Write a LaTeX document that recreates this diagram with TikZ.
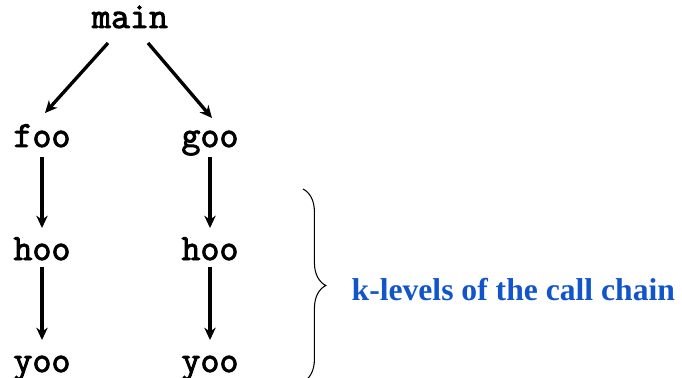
\documentclass[tikz,border=0pt]{standalone}
\usepackage{fontspec}
\setmainfont{Liberation Serif}
\newfontface\codefont[FakeBold=2.5]{Latin Modern Mono}
\usetikzlibrary{arrows.meta, calc, decorations.pathreplacing}
\definecolor{chainblue}{RGB}{17,85,204}

\begin{document}
\begin{tikzpicture}
            [x=0.02cm, y=-0.02cm, -{Stealth[length=7pt, width=6.5pt]}, line width=1.9pt,
             fn/.style={font=\fontsize{21}{22}\codefont, inner sep=0pt, anchor=base}]
            \useasboundingbox (0,0) rectangle (682,378);
            \node[fn] (main) at (130,28) {main};
            \node[fn] (foo) at (42,147) {foo};
            \node[fn] (goo) at (210,147) {goo};
            \node[fn] (hooL) at (42,260) {hoo};
            \node[fn] (hooR) at (210,260) {hoo};
            \node[fn] (yooL) at (42,372) {yoo};
            \node[fn] (yooR) at (210,372) {yoo};
            \node[font=\fontsize{18}{20}\selectfont\bfseries, text=chainblue, anchor=west, inner sep=0pt] (klevels) at (350,290) {k-levels of the call chain};

            \draw ($(main.base)+(-22,15)$) -- ($(foo.base)+(3,-34)$);
            \draw ($(main.base)+(18,15)$) -- ($(goo.base)+(2,-29)$);
            \draw ($(foo.base)+(0,10)$) -- ($(hooL.base)+(0,-32)$);
            \draw ($(goo.base)+(0,10)$) -- ($(hooR.base)+(0,-32)$);
            \draw ($(hooL.base)+(0,7)$) -- ($(yooL.base)+(0,-32)$);
            \draw ($(hooR.base)+(0,7)$) -- ($(yooR.base)+(0,-32)$);
            \draw [-, line width=0.6pt, decorate, decoration={brace, amplitude=13pt}] (303,189) -- (303,382);
        \end{tikzpicture}
\end{document}
